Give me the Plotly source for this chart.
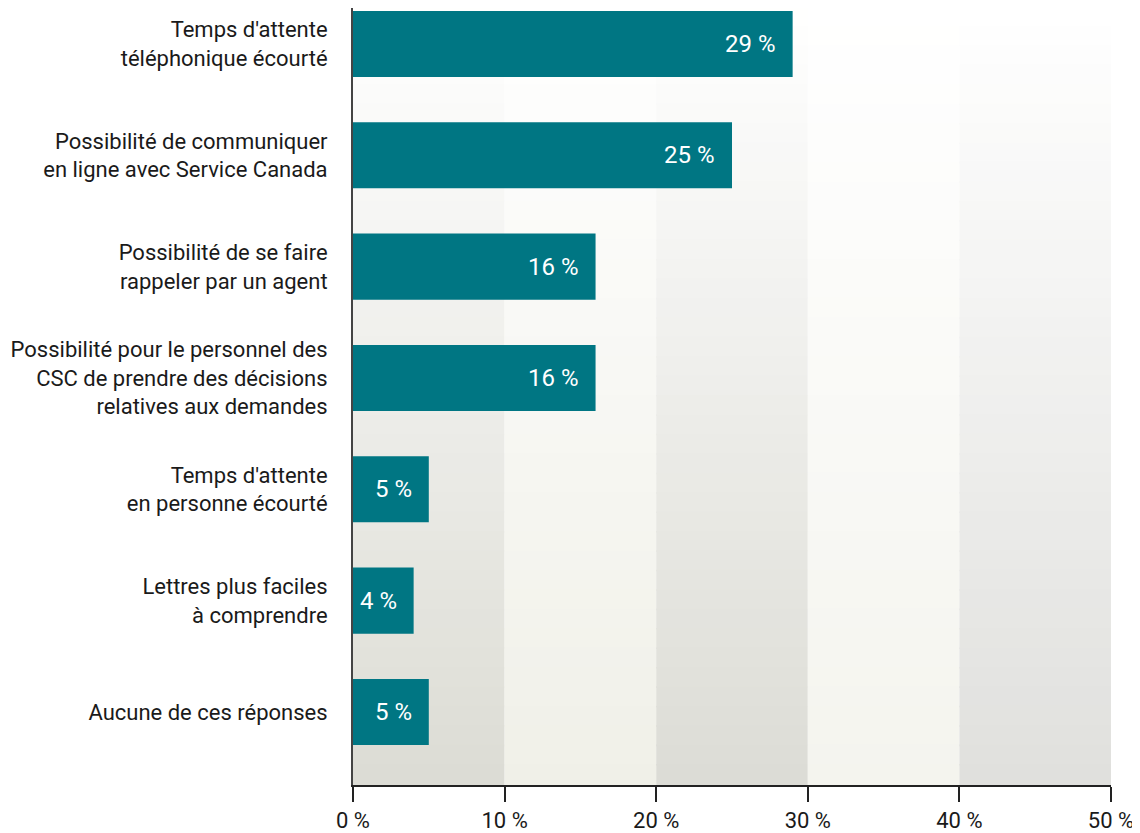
import plotly.graph_objects as go

categories = [
    "Temps d'attente<br>téléphonique écourté",
    "Possibilité de communiquer<br>en ligne avec Service Canada",
    "Possibilité de se faire<br>rappeler par un agent",
    "Possibilité pour le personnel des<br>CSC de prendre des décisions<br>relatives aux demandes",
    "Temps d'attente<br>en personne écourté",
    "Lettres plus faciles<br>à comprendre",
    "Aucune de ces réponses",
]
values = [29, 25, 16, 16, 5, 4, 5]
tick_vals = [0, 10, 20, 30, 40, 50]
tick_text = ["0 %", "10 %", "20 %", "30 %", "40 %", "50 %"]

# bottom colour of each 10-point background band (fades to white at the top)
band_colors = [(220, 220, 212), (240, 240, 232), (220, 220, 213), (244, 244, 238), (224, 224, 221)]

FONT = "Roboto, Liberation Sans, sans-serif"
TEAL = "#007683"

fig = go.Figure()
fig.add_trace(go.Bar(
    y=categories, x=values, orientation="h",
    marker=dict(color=TEAL, line=dict(width=0)),
    width=0.593, hoverinfo="skip",
))

for c, v in zip(categories, values):
    fig.add_annotation(x=v, y=c, text=f"{v} %", showarrow=False,
                       xanchor="right", xshift=-15,
                       font=dict(family=FONT, size=24, color="white"))

shapes = []
n = 40
for i, col in enumerate(band_colors):
    for k in range(n):
        f = (k + 0.5) / n  # 0 top -> 1 bottom
        r, g, b = [round(255 - (255 - c) * f) for c in col]
        shapes.append(dict(type="rect", xref="x", yref="paper", layer="below",
                           x0=tick_vals[i], x1=tick_vals[i + 1],
                           y0=1 - (k + 1) / n, y1=1 - k / n + 0.002,
                           fillcolor=f"rgb({r},{g},{b})", line=dict(width=0)))

fig.update_layout(
    width=1132, height=825,
    margin=dict(l=345, r=29, t=0, b=48),
    paper_bgcolor="white", plot_bgcolor="white",
    showlegend=False, shapes=shapes,
    font=dict(family=FONT, size=22, color="#1a1a1a"),
    xaxis=dict(range=[0, 50], tickvals=tick_vals, ticktext=tick_text,
               showgrid=False, zeroline=False, showline=True, linecolor="#222",
               linewidth=1.5, ticks="outside", ticklen=15, tickwidth=1.5,
               tickcolor="#222", tickfont=dict(size=22)),
    yaxis=dict(type="category", range=[6.656, -0.323], showgrid=False,
               showline=True, linecolor="#444", linewidth=2, ticks="",
               ticklabelstandoff=19, tickfont=dict(size=22)),
)

fig.write_html("out.html")
